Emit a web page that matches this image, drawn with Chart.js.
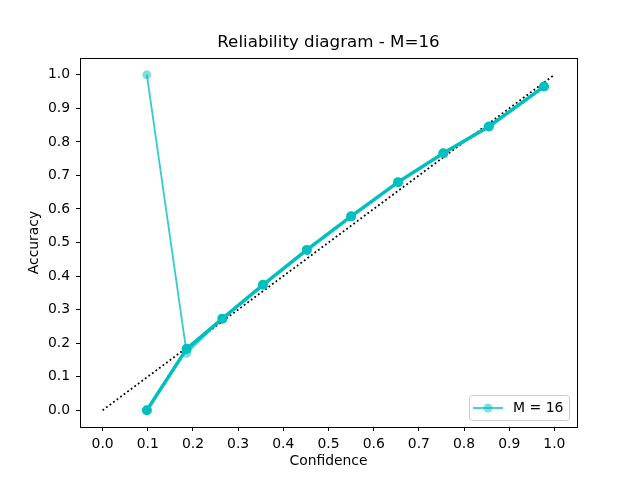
<!DOCTYPE html>
<html>
<head>
<meta charset="utf-8">
<script src="https://cdn.jsdelivr.net/npm/chart.js@4/dist/chart.umd.min.js"></script>
<style>
  html, body { margin: 0; padding: 0; background: #fff; }
  #wrap { width: 640px; height: 480px; }
</style>
</head>
<body>
<div id="wrap"><canvas id="myChart" width="640" height="480"></canvas></div>
<script>
'use strict';

// values
var confidence   = [0.098, 0.186, 0.265, 0.355, 0.452, 0.550, 0.654, 0.754, 0.855, 0.977];
var accuracy     = [0.000, 0.183, 0.273, 0.374, 0.478, 0.578, 0.680, 0.766, 0.846, 0.965];
var accuracyBins = [1.000, 0.170, 0.273, 0.374, 0.478, 0.578, 0.680, 0.768, 0.846, 0.965];
var diagonal     = [0.0, 1.0];
var xTicks = [0.0, 0.1, 0.2, 0.3, 0.4, 0.5, 0.6, 0.7, 0.8, 0.9, 1.0];
var yTicks = [0.0, 0.1, 0.2, 0.3, 0.4, 0.5, 0.6, 0.7, 0.8, 0.9, 1.0];
var legendLabel = 'M = 16';
var titleText = 'Reliability diagram - M=16';

function toPoints(xs, ys) {
  var pts = [];
  for (var i = 0; i < xs.length; i++) {
    pts.push({x: xs[i], y: ys[i]});
  }
  return pts;
}

Chart.defaults.font.family = '"DejaVu Sans", sans-serif';
Chart.defaults.color = '#000';

// box around the axes + the legend inside lower right (matplotlib style)
var framePlugin = {
  id: 'frame',
  afterDraw: function (chart) {
    var ctx = chart.ctx;
    var a = chart.chartArea;
    ctx.save();
    ctx.strokeStyle = '#000';
    ctx.lineWidth = 1;
    ctx.strokeRect(Math.round(a.left) + 0.5, Math.round(a.top) + 0.5,
      Math.round(a.right - a.left), Math.round(a.bottom - a.top));

    // legend
    var bw = 100, bh = 25;
    var bx = a.right - 8 - bw, by = a.bottom - 7 - bh;
    ctx.beginPath();
    ctx.roundRect(bx + 0.5, by + 0.5, bw, bh, 3);
    ctx.fillStyle = 'rgba(255,255,255,0.8)';
    ctx.fill();
    ctx.strokeStyle = '#cccccc';
    ctx.stroke();

    var ly = by + bh / 2 + 0.5;
    var ds = chart.data.datasets[1];
    ctx.beginPath();
    ctx.moveTo(bx + 4, ly);
    ctx.lineTo(bx + 34, ly);
    ctx.strokeStyle = ds.borderColor;
    ctx.lineWidth = ds.borderWidth;
    ctx.stroke();
    ctx.beginPath();
    ctx.arc(bx + 19, ly, ds.pointRadius, 0, Math.PI * 2);
    ctx.fillStyle = ds.pointBackgroundColor;
    ctx.fill();

    ctx.fillStyle = '#000';
    ctx.font = '14px "DejaVu Sans", sans-serif';
    ctx.textBaseline = 'middle';
    ctx.textAlign = 'left';
    ctx.fillText(ds.label, bx + 44, ly);
    ctx.restore();
  }
};

var ctx = document.getElementById('myChart').getContext('2d');
var myChart = new Chart(ctx, {
  type: 'scatter',
  data: {
    datasets: [
      {
        label: 'calibration',
        data: toPoints(confidence, accuracy),
        showLine: true,
        borderColor: '#00bfbf',
        borderWidth: 3.5,
        pointRadius: 5,
        pointBackgroundColor: '#00bfbf',
        pointBorderWidth: 0
      },
      {
        label: legendLabel,
        data: toPoints(confidence, accuracyBins),
        showLine: true,
        borderColor: 'rgba(0,191,191,0.8)',
        borderWidth: 1.8,
        pointRadius: 4.5,
        pointBackgroundColor: 'rgba(0,191,191,0.5)',
        pointBorderWidth: 0
      },
      {
        label: 'perfect',
        data: toPoints(diagonal, diagonal),
        showLine: true,
        borderColor: '#000',
        borderWidth: 1.8,
        borderDash: [1.8, 2.6],
        pointRadius: 0
      }
    ]
  },
  plugins: [framePlugin],
  options: {
    responsive: false,
    animation: false,
    layout: { padding: { left: 0, right: 63, top: 0, bottom: 0 } },
    plugins: {
      legend: { display: false },
      tooltip: { enabled: false },
      title: {
        display: true,
        fullSize: false,
        text: titleText,
        color: '#000',
        font: { size: 16.7, weight: 'normal' },
        padding: { top: 33, bottom: 5 }
      }
    },
    scales: {
      x: {
        type: 'linear',
        min: -0.05,
        max: 1.05,
        afterFit: function (s) { s.height = 53; },
        afterBuildTicks: function (s) { s.ticks = xTicks.map(function (v) { return {value: v}; }); },
        grid: { drawOnChartArea: false, drawTicks: true, tickLength: 4, color: '#000' },
        border: { display: false },
        ticks: {
          padding: 5,
          font: { size: 13.9 },
          maxRotation: 0,
          callback: function (v) { return Number(v).toFixed(1); }
        },
        title: {
          display: true,
          text: 'Confidence',
          font: { size: 13.9 },
          padding: { top: 2, bottom: 10 }
        }
      },
      y: {
        type: 'linear',
        min: -0.05,
        max: 1.05,
        afterFit: function (s) { s.width = 80; },
        afterBuildTicks: function (s) { s.ticks = yTicks.map(function (v) { return {value: v}; }); },
        grid: { drawOnChartArea: false, drawTicks: true, tickLength: 4, color: '#000' },
        border: { display: false },
        ticks: {
          padding: 6,
          font: { size: 13.9 },
          callback: function (v) { return Number(v).toFixed(1); }
        },
        title: {
          display: true,
          text: 'Accuracy',
          font: { size: 13.9 },
          padding: { top: 26, bottom: 2 }
        }
      }
    }
  }
});
</script>
</body>
</html>
